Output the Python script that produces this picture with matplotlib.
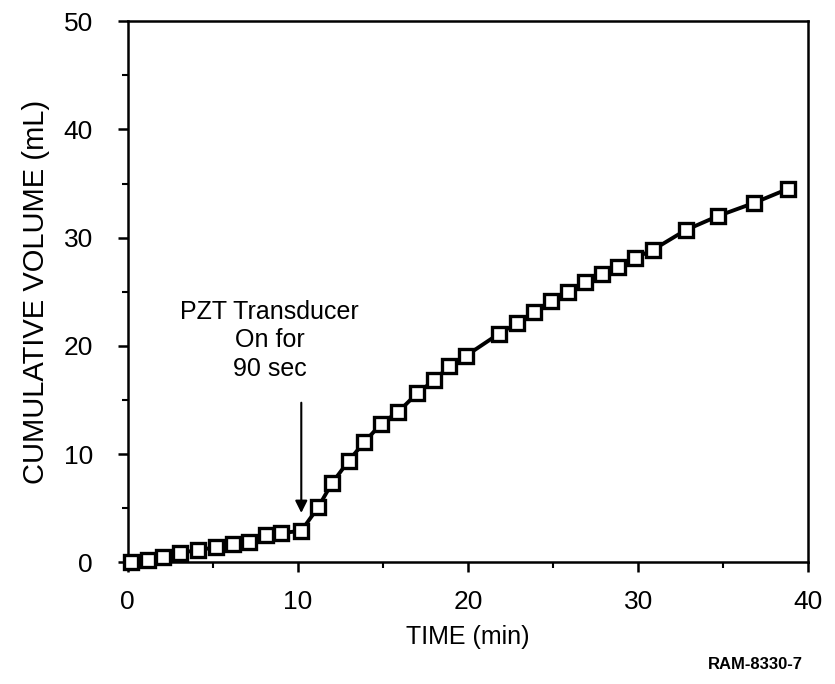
import numpy as np
import matplotlib
matplotlib.use("Agg")
import matplotlib.pyplot as plt
from matplotlib.ticker import MultipleLocator

plt.rcParams['font.family'] = ['Liberation Sans', 'DejaVu Sans']

# cumulative volume
time_min = [0.2, 1.2, 2.1, 3.1, 4.1, 5.2, 6.2, 7.1, 8.1, 9.0, 10.2,
            11.2, 12.0, 13.0, 13.9, 14.9, 15.9, 17.0, 18.0, 18.9, 19.9,
            21.8, 22.9, 23.9, 24.9, 25.9, 26.9, 27.9, 28.8, 29.8, 30.9,
            32.8, 34.7, 36.8, 38.8]
volume_ml = [0.0, 0.2, 0.5, 0.9, 1.1, 1.4, 1.7, 1.9, 2.5, 2.7, 2.9,
             5.1, 7.3, 9.4, 11.1, 12.8, 13.9, 15.6, 16.8, 18.1, 19.1,
             21.1, 22.1, 23.1, 24.1, 25.0, 25.9, 26.6, 27.3, 28.1, 28.9,
             30.7, 32.0, 33.2, 34.5]

x_ticks = [0, 10, 20, 30, 40]
y_ticks = [0, 10, 20, 30, 40, 50]

fig = plt.figure(figsize=(8.35, 6.84), dpi=100)
ax = fig.add_axes([0.153, 0.178, 0.815, 0.791])

ax.plot(time_min, volume_ml, color='black', lw=2.8, marker='s', ms=10,
        mfc='white', mec='black', mew=2.4, clip_on=False, zorder=3)

ax.set_xlim(0, 40)
ax.set_ylim(0, 50)
ax.set_xticks(x_ticks)
ax.set_yticks(y_ticks)
ax.xaxis.set_minor_locator(MultipleLocator(5))
ax.yaxis.set_minor_locator(MultipleLocator(5))
ax.tick_params(which='major', direction='out', length=7, width=1.8,
               labelsize=19, top=False, right=False)
ax.tick_params(axis='x', which='major', pad=13)
ax.tick_params(axis='y', which='major', pad=18)
ax.tick_params(which='minor', direction='out', length=4, width=1.5,
               top=False, right=False)
for sp in ax.spines.values():
    sp.set_linewidth(1.8)

ax.set_xlabel('TIME (min)', fontsize=18, labelpad=8)
ax.set_ylabel('CUMULATIVE VOLUME (mL)', fontsize=21, labelpad=10)

ax.text(8.35, 20.5, 'PZT Transducer\nOn for\n90 sec', fontsize=18,
        ha='center', va='center', linespacing=1.25)
ax.annotate('', xy=(10.2, 4.3), xytext=(10.2, 15.0),
            arrowprops=dict(arrowstyle='-|>', color='black', lw=1.5,
                            mutation_scale=18))

fig.text(0.905, 0.017, 'RAM-8330-7', fontsize=12, fontweight='bold',
         ha='center', va='bottom')

fig.savefig('out.png', dpi=100)
